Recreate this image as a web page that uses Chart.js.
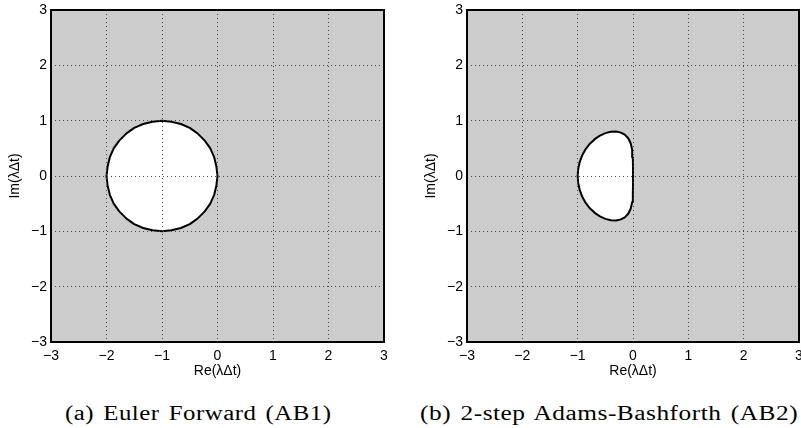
<!DOCTYPE html>
<html>
<head>
<meta charset="utf-8">
<script src="https://cdn.jsdelivr.net/npm/chart.js@4/dist/chart.umd.min.js"></script>
<style>
  html, body { margin: 0; padding: 0; background: #fff; }
  body { width: 801px; height: 428px; position: relative; overflow: hidden; }
  .panel { position: absolute; top: 0; height: 385px; }
  .cap {
    position: absolute; white-space: nowrap; color: #000;
    font-family: "Liberation Serif", "DejaVu Serif", serif; font-size: 20px;
    letter-spacing: 0.4px; word-spacing: 2px;
    line-height: 1; transform-origin: center center;
  }
</style>
</head>
<body>
<div class="panel" style="left:0; width:400px;"><canvas id="abOne"></canvas></div>
<div class="panel" style="left:416px; width:385px;"><canvas id="abTwo"></canvas></div>
<div class="cap" id="capA" data-cx="198.5" data-cy="413" data-w="267">(a) Euler Forward (AB1)</div>
<div class="cap" id="capB" data-cx="609" data-cy="413" data-w="378">(b) 2-step Adams-Bashforth (AB2)</div>

<script>
// Axis ticks shared by both panels
const tickValues = [-3, -2, -1, 0, 1, 2, 3];
const tickLabels = ['\u22123', '\u22122', '\u22121', '0', '1', '2', '3'];

// Boundary of the AB1 (forward Euler) stability region, in 10 degree steps
const ab1Re = [0, -0.02, -0.06, -0.13, -0.23, -0.36, -0.5, -0.66, -0.83, -1,
  -1.17, -1.34, -1.5, -1.64, -1.77, -1.87, -1.94, -1.98, -2,
  -1.98, -1.94, -1.87, -1.77, -1.64, -1.5, -1.34, -1.17, -1,
  -0.83, -0.66, -0.5, -0.36, -0.23, -0.13, -0.06, -0.02, 0];
const ab1Im = [0, 0.17, 0.34, 0.5, 0.64, 0.77, 0.87, 0.94, 0.98, 1,
  0.98, 0.94, 0.87, 0.77, 0.64, 0.5, 0.34, 0.17, 0,
  -0.17, -0.34, -0.5, -0.64, -0.77, -0.87, -0.94, -0.98, -1,
  -0.98, -0.94, -0.87, -0.77, -0.64, -0.5, -0.34, -0.17, 0];

// Boundary of the AB2 stability region, in 10 degree steps
const ab2Re = [0, 0, -0.003, -0.015, -0.041, -0.083, -0.143, -0.218, -0.305, -0.4,
  -0.499, -0.598, -0.692, -0.779, -0.855, -0.917, -0.962, -0.99, -1,
  -0.99, -0.962, -0.917, -0.855, -0.779, -0.692, -0.598, -0.499, -0.4,
  -0.305, -0.218, -0.143, -0.083, -0.041, -0.015, -0.003, 0, 0];
const ab2Im = [0, 0.172, 0.333, 0.472, 0.587, 0.677, 0.742, 0.784, 0.803, 0.8,
  0.775, 0.73, 0.666, 0.584, 0.487, 0.377, 0.257, 0.13, 0,
  -0.13, -0.257, -0.377, -0.487, -0.584, -0.666, -0.73, -0.775, -0.8,
  -0.803, -0.784, -0.742, -0.677, -0.587, -0.472, -0.333, -0.172, 0];

const xTitle = 'Re(\u03bb\u0394t)';
const yTitle = 'Im(\u03bb\u0394t)';

const tickFont = { family: '"Liberation Sans", Arial, Helvetica, sans-serif', size: 14 };

// Gray unstable area behind the data, black frame on top of everything
const panelPlugin = {
  id: 'panelFrame',
  beforeDraw(chart) {
    const a = chart.chartArea, ctx = chart.ctx;
    ctx.save();
    ctx.fillStyle = '#cccccc';
    ctx.fillRect(a.left, a.top, a.right - a.left, a.bottom - a.top);
    ctx.restore();
  },
  afterDraw(chart) {
    const a = chart.chartArea, ctx = chart.ctx;
    ctx.save();
    ctx.strokeStyle = '#000';
    ctx.lineWidth = 2;
    ctx.strokeRect(a.left, a.top, a.right - a.left, a.bottom - a.top);
    ctx.restore();
  }
};

function axis(isX) {
  return {
    type: 'linear',
    position: isX ? 'bottom' : 'left',
    min: -3, max: 3,
    afterBuildTicks(s) { s.ticks = tickValues.map(v => ({ value: v })); },
    afterFit(s) {
      if (isX) { s.height = 43; s.paddingLeft = 0; s.paddingRight = 0; }
      else { s.width = 51; s.paddingTop = 0; s.paddingBottom = 0; }
    },
    // dotted grid drawn above the stability region
    grid: {
      color: '#4a4a4a', lineWidth: 1, drawTicks: false, tickLength: 0, z: 1
    },
    border: { display: false, dash: [1, 3] },
    ticks: {
      color: '#000', font: tickFont, padding: isX ? 6 : 4,
      autoSkip: false, maxRotation: 0,
      callback(v) { const i = tickValues.indexOf(v); return i >= 0 ? tickLabels[i] : ''; }
    },
    title: {
      display: true, text: isX ? xTitle : yTitle, color: '#000',
      font: tickFont, padding: isX ? { top: 0, bottom: 5 } : { top: 7, bottom: 0 }
    }
  };
}

function makePanel(id, re, im, rightPad) {
  const pts = re.map((x, i) => ({ x: x, y: im[i] }));
  return new Chart(document.getElementById(id), {
    type: 'scatter',
    data: {
      datasets: [{
        data: pts,
        showLine: true,
        fill: 'shape',
        backgroundColor: '#ffffff',
        borderColor: '#000000',
        borderWidth: 2,
        borderJoinStyle: 'round',
        pointRadius: 0,
        tension: 0
      }]
    },
    options: {
      responsive: true,
      maintainAspectRatio: false,
      animation: false,
      layout: { padding: { top: 10, right: rightPad, left: 0, bottom: 0 } },
      plugins: { legend: { display: false }, tooltip: { enabled: false } },
      scales: { x: axis(true), y: axis(false) }
    },
    plugins: [panelPlugin]
  });
}

makePanel('abOne', ab1Re, ab1Im, 16);
makePanel('abTwo', ab2Re, ab2Im, 2);

// Place the sub-captions under each panel
document.querySelectorAll('.cap').forEach(el => {
  const w = el.offsetWidth, h = el.offsetHeight;
  const sx = parseFloat(el.dataset.w) / w;
  el.style.left = (parseFloat(el.dataset.cx) - w / 2) + 'px';
  el.style.top = (parseFloat(el.dataset.cy) - h / 2) + 'px';
  el.style.transform = 'scaleX(' + sx.toFixed(3) + ')';
});
</script>
</body>
</html>
